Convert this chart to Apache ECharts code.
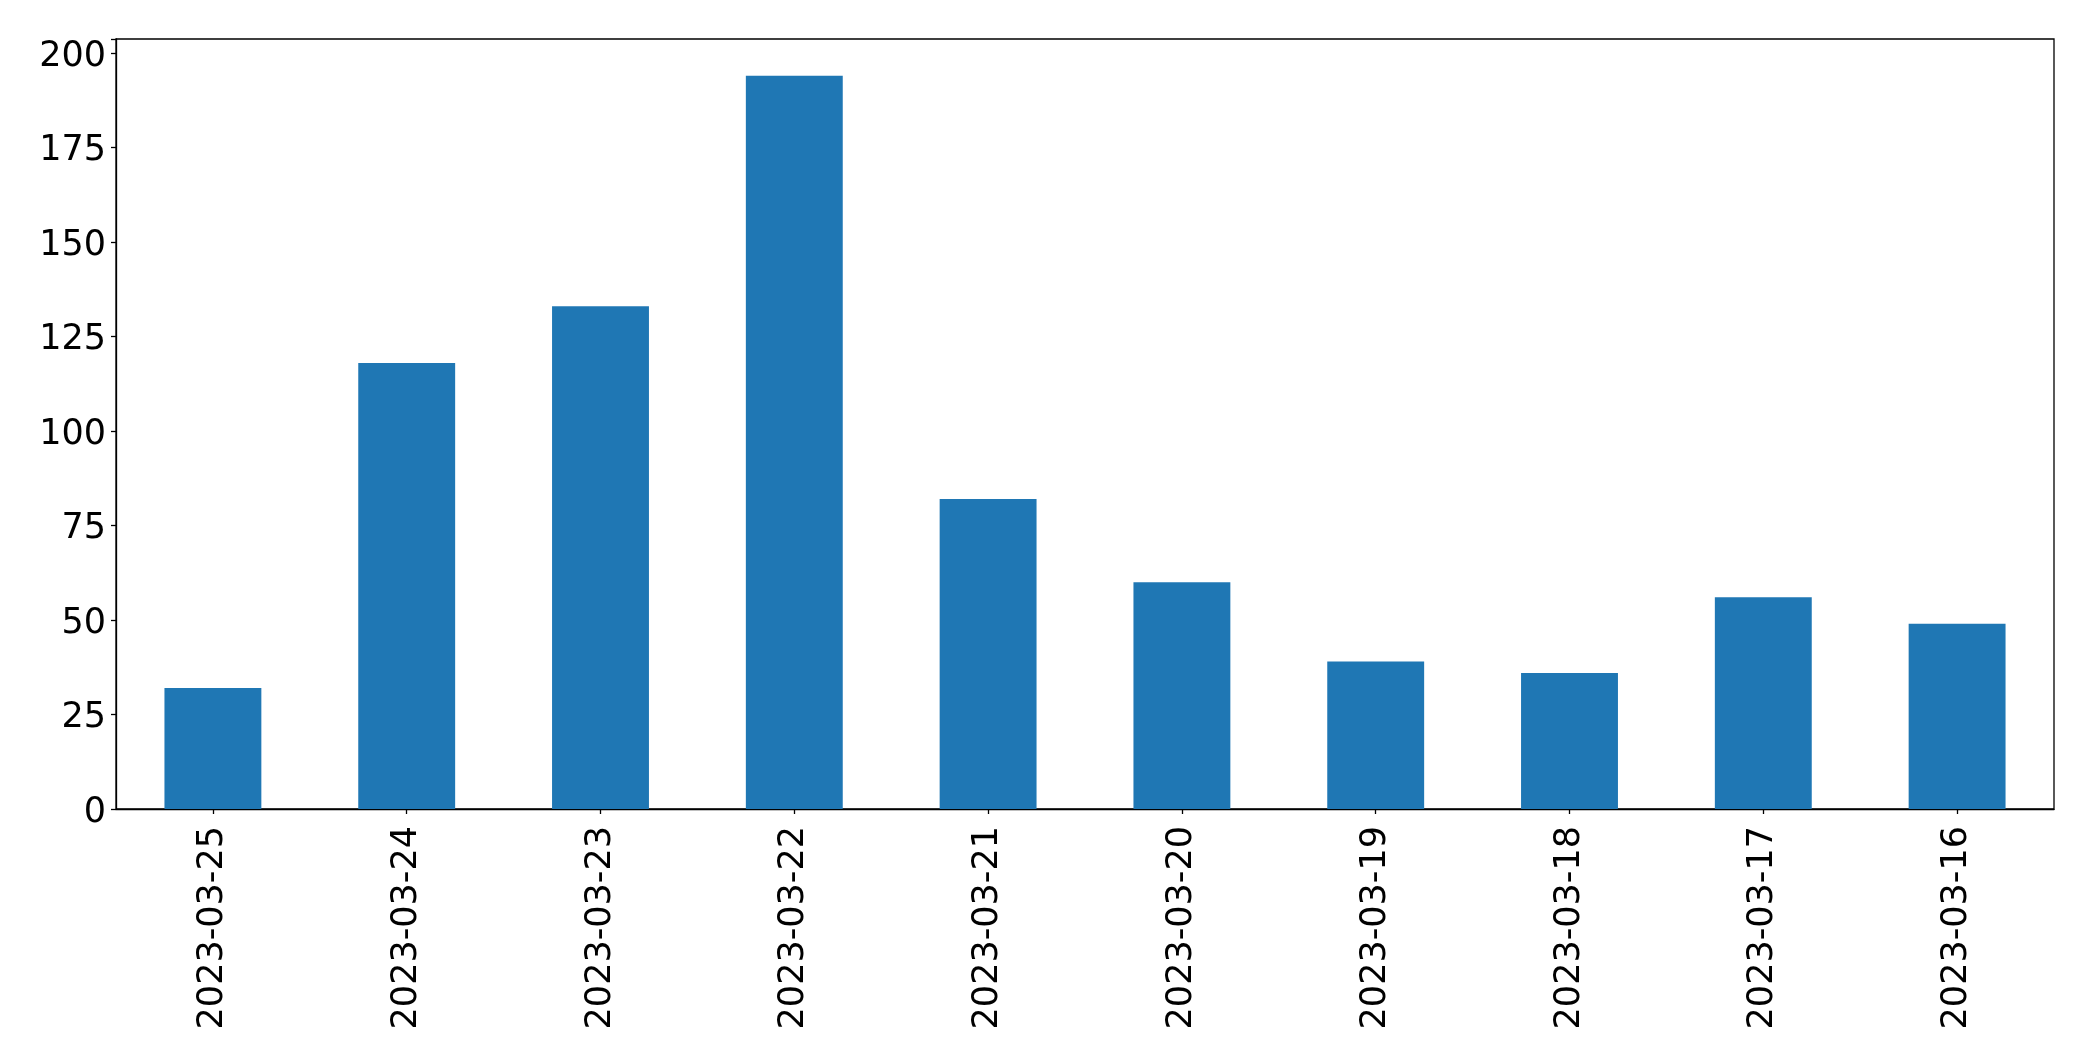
<!DOCTYPE html>
<html>
<head>
<meta charset="utf-8">
<script src="https://cdn.jsdelivr.net/npm/echarts@6/dist/echarts.min.js"></script>
<style>
html,body{margin:0;padding:0;background:#fff;}
#chart{width:2093px;height:1061px;}
</style>
</head>
<body>
<div id="chart"></div>
<script>
const categories = ['2023-03-25','2023-03-24','2023-03-23','2023-03-22','2023-03-21','2023-03-20','2023-03-19','2023-03-18','2023-03-17','2023-03-16'];
const values = [32, 118, 133, 194, 82, 60, 39, 36, 56, 49];
const yTicks = [0, 25, 50, 75, 100, 125, 150, 175, 200];

const chart = echarts.init(document.getElementById('chart'), null, {renderer: 'canvas'});
const font = 'DejaVu Sans';
chart.setOption({
  animation: false,
  backgroundColor: '#fff',
  grid: {left: 116, top: 39, width: 1938, height: 770, show: true, borderColor: '#000', borderWidth: 1.3, backgroundColor: 'transparent'},
  xAxis: {
    type: 'category',
    data: categories,
    boundaryGap: true,
    axisLine: {show: true, lineStyle: {color: '#000', width: 1.3}},
    axisTick: {show: true, alignWithLabel: true, length: 5, lineStyle: {color: '#000', width: 1.3}},
    axisLabel: {rotate: 90, margin: 17, color: '#000', fontSize: 35, fontFamily: font, interval: 0},
    splitLine: {show: false}
  },
  yAxis: {
    type: 'value',
    min: 0,
    max: 203.7,
    interval: 25,
    axisLine: {show: true, lineStyle: {color: '#000', width: 1.3}},
    axisTick: {show: true, length: 5, lineStyle: {color: '#000', width: 1.3}},
    axisLabel: {
      margin: 10, color: '#000', fontSize: 35, fontFamily: font,
      formatter: function (v) { return yTicks.indexOf(v) >= 0 ? '{a|' + v + '}' : ''; },
      rich: {a: {fontSize: 35, fontFamily: font, color: '#000', padding: [7, 0, 0, 0]}}
    },
    splitLine: {show: false}
  },
  series: [{
    type: 'bar',
    data: values,
    barWidth: '50%',
    itemStyle: {color: '#1f77b4'}
  }]
});
</script>
</body>
</html>
